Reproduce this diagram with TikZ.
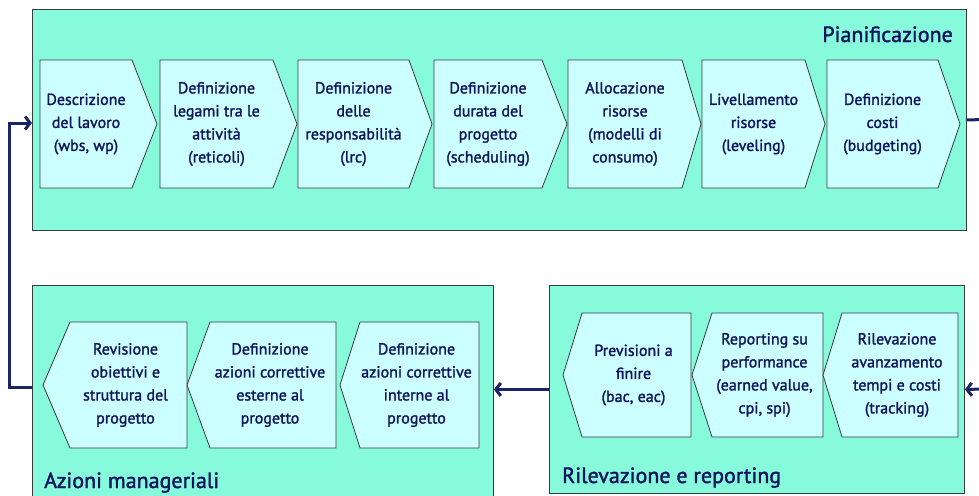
\documentclass[tikz,border=0pt]{standalone}
\usepackage{fontspec}
\setmainfont{PT Sans}[FakeBold=1.6]
\usetikzlibrary{arrows.meta}
\definecolor{panelfill}{RGB}{136,250,220}
\definecolor{chevfill}{RGB}{204,255,255}
\definecolor{inkblue}{RGB}{16,20,92}
\definecolor{arrowblue}{RGB}{28,36,104}
\definecolor{edgegray}{RGB}{55,60,60}

% right-pointing step: name, left x, shoulder x, tip x, top y, bottom y, text
\newcommand\chevR[7]{%
  \draw[chevbox] (#2,#5) -- (#3,#5) -- (#4,{(#5+#6)/2}) -- (#3,#6) -- (#2,#6) -- cycle;
  \node[steplabel] (#1) at ({(#2+#3)/2},{(#5+#6)/2}) {#7};}
% left-pointing step: name, tip x, shoulder x, right x, top y, bottom y, text
\newcommand\chevL[7]{%
  \draw[chevbox] (#2,{(#5+#6)/2}) -- (#3,#5) -- (#4,#5) -- (#4,#6) -- (#3,#6) -- cycle;
  \node[steplabel] (#1) at ({(#3+#4)/2-3},{(#5+#6)/2}) {#7};}

\begin{document}
\begin{tikzpicture}[x=1pt,y=-1pt,
  panel/.style={draw=edgegray,line width=0.9pt,fill=panelfill,inner sep=0pt,anchor=north west},
  chevbox/.style={draw=edgegray,line width=0.8pt,fill=chevfill,line join=miter},
  steplabel/.style={align=center,text=inkblue,inner sep=0pt,font=\fontsize{16}{23}\selectfont},
  paneltitle/.style={text=inkblue,inner sep=0pt,font=\fontsize{22}{26}\selectfont},
  flow/.style={draw=arrowblue,line width=3pt,-{Straight Barb[length=5pt,width=13pt]}},
  flowline/.style={draw=arrowblue,line width=3pt}]
\useasboundingbox (0,0) rectangle (979,495);
\clip (0,0) rectangle (979,495);

% phase panels
\node[panel,minimum width=934pt,minimum height=221pt] (plan) at (32,9) {};
\node[panel,minimum width=461pt,minimum height=230pt] (azioni) at (32,285) {};
\node[panel,minimum width=415pt,minimum height=208pt] (rilev) at (549,285) {};

% panel titles
\node[paneltitle,anchor=base east] (tplan) at (953,42) {Pianificazione};
\node[paneltitle,anchor=base west] (tazioni) at (44,488) {Azioni manageriali};
\node[paneltitle,anchor=base west] (trilev) at (562,483) {Rilevazione e reporting};

% planning steps
\chevR{p1}{40}{132}{157}{60}{188}{Descrizione\\del lavoro\\(wbs, wp)}
\chevR{p2}{160}{273}{297}{60}{188}{Definizione\\legami tra le\\attività\\(reticoli)}
\chevR{p3}{298}{409}{432}{60}{188}{Definizione\\delle\\responsabilità\\(lrc)}
\chevR{p4}{434}{542}{567}{60}{188}{Definizione\\durata del\\progetto\\(scheduling)}
\chevR{p5}{568}{682}{701}{60}{188}{Allocazione\\risorse\\(modelli di\\consumo)}
\chevR{p6}{702}{805}{825}{60}{188}{Livellamento\\risorse\\(leveling)}
\chevR{p7}{827}{938}{960}{60}{188}{Definizione\\costi\\(budgeting)}

% management actions
\chevL{a1}{43}{70}{187}{322}{448}{Revisione\\obiettivi e\\struttura del\\progetto}
\chevL{a2}{187}{210}{336}{322}{448}{Definizione\\azioni correttive\\esterne al\\progetto}
\chevL{a3}{340}{360}{479}{322}{448}{Definizione\\azioni correttive\\interne al\\progetto}

% monitoring and reporting
\chevL{r1}{563}{582}{691}{313}{437}{Previsioni a\\finire\\(bac, eac)}
\chevL{r2}{692}{712}{823}{313}{437}{Reporting su\\performance\\(earned value,\\cpi, spi)}
\chevL{r3}{823}{842}{958}{313}{437}{Rilevazione\\avanzamento\\tempi e costi\\(tracking)}

% flow between phases
\coordinate (outR) at (985,119.5);
\coordinate (inR) at (985,389);
\coordinate (loopX) at (9,0);
\draw[flowline] (plan.east) -- (outR);
\draw[flow] (inR) -- (rilev.east);
\draw[flow] (rilev.west) -- (rilev.west -| azioni.east);
\draw[flow] (azioni.west |- 0,387) -| (loopX |- 0,123) -- (plan.west |- 0,123);
\end{tikzpicture}
\end{document}
